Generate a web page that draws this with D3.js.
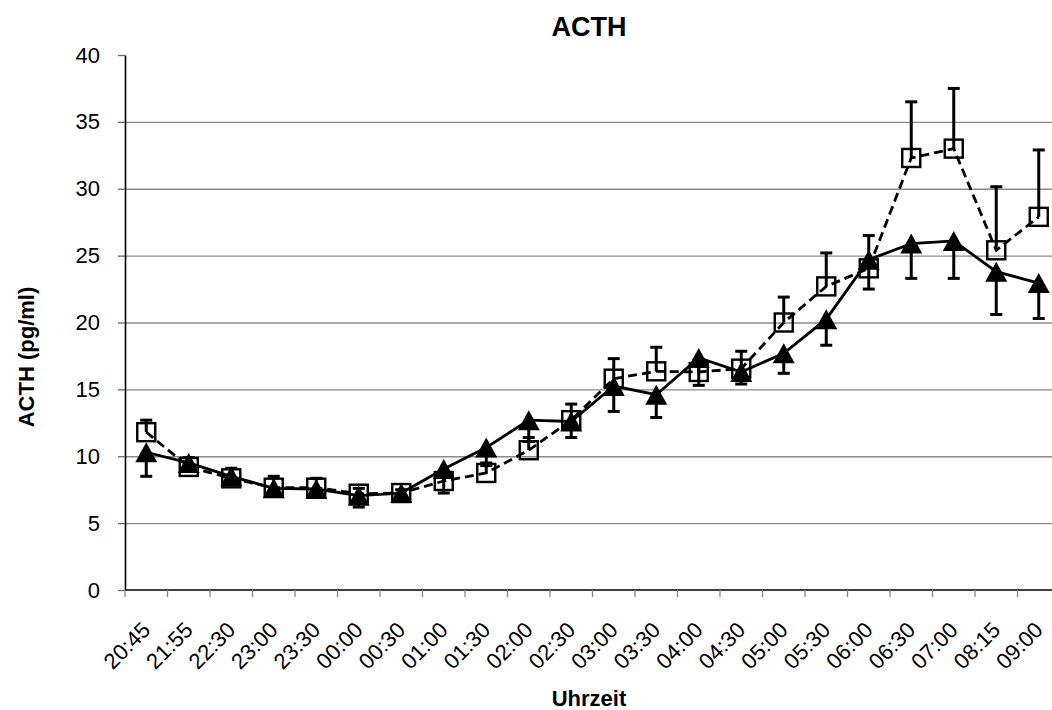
<!DOCTYPE html>
<html>
<head>
<meta charset="utf-8">
<script src="https://cdn.jsdelivr.net/npm/d3@7"></script>
<style>
  body { margin: 0; background: #fff; }
  svg { font-family: "Liberation Sans", Arial, sans-serif; }
</style>
</head>
<body>
<svg id="chart" width="1052" height="710"></svg>
<script>
// time points on the x axis
const times = ["20:45","21:55","22:30","23:00","23:30","00:00","00:30","01:00","01:30","02:00","02:30",
               "03:00","03:30","04:00","04:30","05:00","05:30","06:00","06:30","07:00","08:15","09:00"];

// solid line, filled triangles (error bar drawn downward)
const triMean = [10.3, 9.5, 8.5, 7.6, 7.55, 7.05, 7.25, 9.05, 10.65, 12.7, 12.6,
                 15.25, 14.6, 17.35, 16.3, 17.7, 20.25, 24.7, 25.9, 26.1, 23.8, 22.95];
const triErr  = [1.8, 0.5, 0.5, 0.4, 0.45, 0.85, 0.35, 1.8, 1.15, 1.6, 1.2,
                 1.9, 1.7, 2.05, 0.9, 1.5, 1.95, 2.2, 2.6, 2.8, 3.2, 2.65];

// dashed line, open squares (error bar drawn upward)
const sqMean = [11.8, 9.2, 8.35, 7.65, 7.65, 7.2, 7.25, 8.15, 8.75, 10.45, 12.7,
                15.8, 16.35, 16.3, 16.55, 20.0, 22.7, 24.05, 32.3, 33.0, 25.4, 27.9];
const sqErr  = [0.9, 0.7, 0.75, 0.85, 0.7, 0.4, 0.25, 0.45, 0.55, 0.95, 1.2,
                1.5, 1.8, 0.9, 1.3, 1.9, 2.5, 2.45, 4.2, 4.5, 4.75, 5.0];

const yTicks = [0, 5, 10, 15, 20, 25, 30, 35, 40];

/***** SETUP *****/
const svg = d3.select("#chart");
const plotLeft = 125, plotRight = 1060, plotTop = 55, plotBottom = 590;

const xScale = d3.scaleBand().domain(times).range([plotLeft, plotRight]).padding(0);
const yScale = d3.scaleLinear().domain([0, 40]).range([plotBottom, plotTop]);
const cx = d => xScale(d) + xScale.bandwidth() / 2;

/***** GRIDLINES *****/
svg.append("g")
    .attr("transform", `translate(${plotLeft},0)`)
    .call(d3.axisLeft(yScale)
        .tickValues(yTicks.filter(v => v > 0 && v < 40))
        .tickSize(-(plotRight - plotLeft))
        .tickFormat(""))
    .call(g => g.select(".domain").remove())
    .selectAll("line")
        .attr("stroke", "#8a8a8a")
        .attr("stroke-width", 1.3);

/***** Y AXIS *****/
svg.append("g")
    .attr("transform", `translate(${plotLeft},0)`)
    .call(d3.axisLeft(yScale)
        .tickValues(yTicks)
        .tickSize(7)
        .tickPadding(18)
        .tickSizeOuter(0))
    .call(g => g.select(".domain").attr("stroke", "#000").attr("stroke-width", 1.6))
    .call(g => g.selectAll(".tick line").attr("stroke", "#666").attr("stroke-width", 1.3))
    .call(g => g.selectAll("text")
        .attr("font-size", 22)
        .attr("font-family", "Liberation Sans, Arial, sans-serif")
        .attr("fill", "#000"));

/***** X AXIS *****/
const xAxis = svg.append("g")
    .attr("transform", `translate(0,${plotBottom})`);

xAxis.append("line")
    .attr("x1", plotLeft).attr("x2", plotRight)
    .attr("stroke", "#000").attr("stroke-width", 1.6);

// Excel style ticks sit between the categories
xAxis.selectAll(".xTick")
    .data(times.concat(["end"]))
    .join("line")
    .attr("class", "xTick")
    .attr("x1", (d, i) => i < times.length ? xScale(d) : plotRight)
    .attr("x2", (d, i) => i < times.length ? xScale(d) : plotRight)
    .attr("y1", 0).attr("y2", 7)
    .attr("stroke", "#888").attr("stroke-width", 1.3);

xAxis.selectAll(".xLabelTick")
    .data(times)
    .join("text")
    .attr("class", "xLabelTick")
    .attr("transform", d => `translate(${cx(d)},36) rotate(-45)`)
    .attr("text-anchor", "end")
    .attr("dy", "0.35em")
    .attr("font-size", 22)
    .text(d => d);

/***** AXIS TITLES, TITLE *****/
svg.append("text")
    .attr("x", 589).attr("y", 36)
    .attr("text-anchor", "middle")
    .attr("font-size", 27)
    .attr("font-weight", "bold")
    .text("ACTH");

svg.append("text")
    .attr("x", 589).attr("y", 706)
    .attr("text-anchor", "middle")
    .attr("font-size", 22)
    .attr("font-weight", "bold")
    .text("Uhrzeit");

svg.append("text")
    .attr("transform", "translate(34,357) rotate(-90)")
    .attr("text-anchor", "middle")
    .attr("font-size", 22)
    .attr("font-weight", "bold")
    .text("ACTH (pg/ml)");

/***** SERIES *****/
const plot = svg.append("g");
const line = d3.line().x(d => cx(d.t)).y(d => yScale(d.v));

const sqData = times.map((t, i) => ({t: t, v: sqMean[i], e: sqErr[i]}));
const triData = times.map((t, i) => ({t: t, v: triMean[i], e: triErr[i]}));

// squares, dashed
plot.append("path")
    .datum(sqData)
    .attr("d", line)
    .attr("fill", "none")
    .attr("stroke", "#000")
    .attr("stroke-width", 2.8)
    .attr("stroke-dasharray", "9,5");

const capW = 12;
function errorBars(data, dir) {
    const g = plot.append("g");
    g.selectAll(".bar")
        .data(data)
        .join("line")
        .attr("x1", d => cx(d.t)).attr("x2", d => cx(d.t))
        .attr("y1", d => yScale(d.v))
        .attr("y2", d => yScale(d.v + dir * d.e))
        .attr("stroke", "#000").attr("stroke-width", 3);
    g.selectAll(".cap")
        .data(data)
        .join("line")
        .attr("x1", d => cx(d.t) - capW / 2).attr("x2", d => cx(d.t) + capW / 2)
        .attr("y1", d => yScale(d.v + dir * d.e))
        .attr("y2", d => yScale(d.v + dir * d.e))
        .attr("stroke", "#000").attr("stroke-width", 3);
}

errorBars(sqData, 1);

const sq = 18;
plot.selectAll(".sqMark")
    .data(sqData)
    .join("rect")
    .attr("class", "sqMark")
    .attr("x", d => cx(d.t) - sq / 2)
    .attr("y", d => yScale(d.v) - sq / 2)
    .attr("width", sq).attr("height", sq)
    .attr("fill", "none")
    .attr("stroke", "#000")
    .attr("stroke-width", 2.4);

// triangles, solid
plot.append("path")
    .datum(triData)
    .attr("d", line)
    .attr("fill", "none")
    .attr("stroke", "#000")
    .attr("stroke-width", 2.8);

errorBars(triData, -1);

const tw = 22, th = 20;
plot.selectAll(".triMark")
    .data(triData)
    .join("path")
    .attr("class", "triMark")
    .attr("d", d => {
        const x0 = cx(d.t), y0 = yScale(d.v);
        return `M${x0},${y0 - th / 2}L${x0 + tw / 2},${y0 + th / 2}L${x0 - tw / 2},${y0 + th / 2}Z`;
    })
    .attr("fill", "#000");
</script>
</body>
</html>
